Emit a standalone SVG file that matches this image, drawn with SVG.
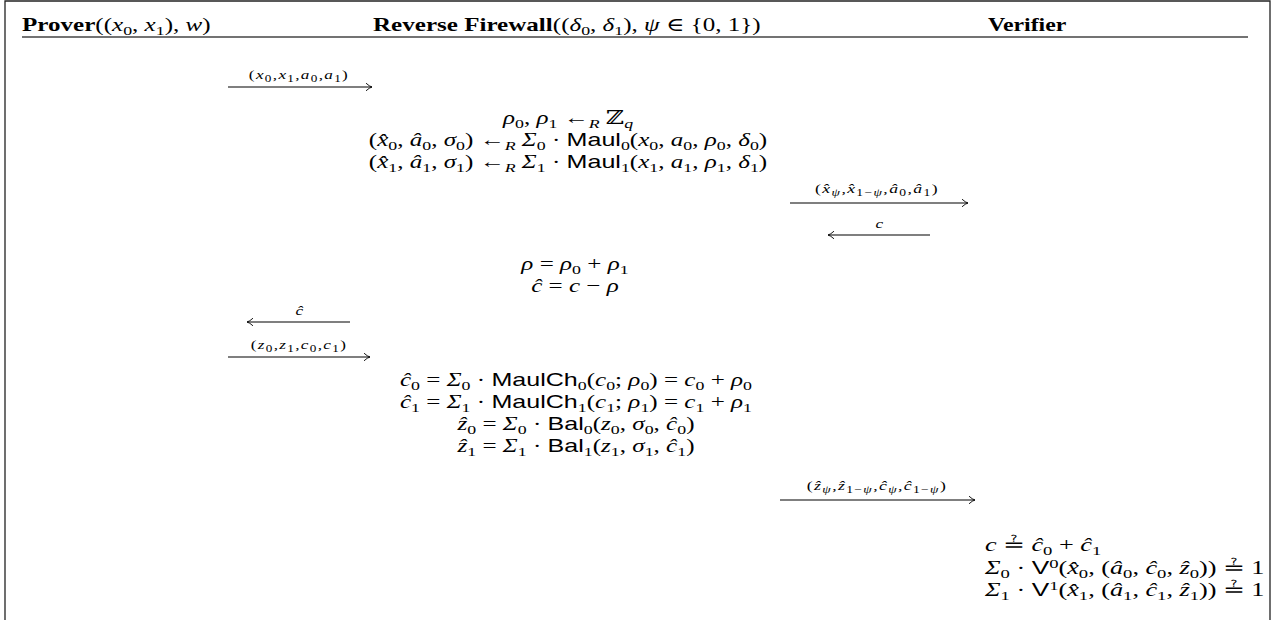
<svg xmlns="http://www.w3.org/2000/svg" width="1276" height="620" viewBox="0 0 1276 620">
<style>
.t{font-family:"Liberation Serif","DejaVu Serif",serif;font-size:19px;fill:#000}
.c{text-anchor:middle}
.m{font-style:italic}
.b{font-weight:bold}
.s{font-family:"Liberation Sans","DejaVu Sans",sans-serif;font-style:normal}
.sb{font-size:13.5px}
.l{font-size:13px;letter-spacing:1px}
.ls{font-size:10px}
.ln{stroke:#000;stroke-width:1.1;fill:none}
.frame{stroke:#222;stroke-width:1.3;fill:none}
</style>
<defs>
<marker id="ah" viewBox="-8 -5 10 10" refX="0" refY="0" markerWidth="10" markerHeight="10" markerUnits="userSpaceOnUse" orient="auto">
<path d="M-6,-3.8 Q-2.5,-0.6 0,0 Q-2.5,0.6 -6,3.8" fill="none" stroke="#000" stroke-width="0.9"/>
</marker>
</defs>
<rect width="1276" height="620" fill="#fff"/>
<path class="frame" d="M5,620 V1 H1270 V620"/>
<line x1="22" y1="37" x2="1248" y2="37" stroke="#444" stroke-width="1.4"/>

<g id="header-prover"><text class="t" transform="translate(22,31) scale(1.32,1)"><tspan class="b">Prover</tspan>((<tspan class="m">x</tspan><tspan class="sb" dy="4">0</tspan><tspan dy="-4">, </tspan><tspan class="m">x</tspan><tspan class="sb" dy="4">1</tspan><tspan dy="-4">), </tspan><tspan class="m">w</tspan>)</text></g>
<g id="header-firewall"><text class="t" transform="translate(373,31) scale(1.32,1)"><tspan class="b">Reverse Firewall</tspan>((<tspan class="m">δ</tspan><tspan class="sb" dy="4">0</tspan><tspan dy="-4">, </tspan><tspan class="m">δ</tspan><tspan class="sb" dy="4">1</tspan><tspan dy="-4">), </tspan><tspan class="m">ψ</tspan> ∈ {0, 1})</text></g>
<g id="header-verifier"><text class="t b" transform="translate(988,31) scale(1.25,1)">Verifier</text></g>

<g id="connectors">
<line class="ln" x1="228" y1="87" x2="372" y2="87" marker-end="url(#ah)"/>
<line class="ln" x1="790" y1="203" x2="968" y2="203" marker-end="url(#ah)"/>
<line class="ln" x1="930" y1="235" x2="828" y2="235" marker-end="url(#ah)"/>
<line class="ln" x1="350" y1="322" x2="247" y2="322" marker-end="url(#ah)"/>
<line class="ln" x1="228" y1="357" x2="370" y2="357" marker-end="url(#ah)"/>
<line class="ln" x1="780" y1="500" x2="975" y2="500" marker-end="url(#ah)"/>
<text class="t l c" transform="translate(299,79) scale(1.32,1)">(<tspan class="m">x</tspan><tspan class="ls" dy="3">0</tspan><tspan dy="-3">,</tspan><tspan class="m">x</tspan><tspan class="ls" dy="3">1</tspan><tspan dy="-3">,</tspan><tspan class="m">a</tspan><tspan class="ls" dy="3">0</tspan><tspan dy="-3">,</tspan><tspan class="m">a</tspan><tspan class="ls" dy="3">1</tspan><tspan dy="-3">)</tspan></text>
<text class="t l c" transform="translate(877,193) scale(1.36,1)">(<tspan class="m">x&#x302;</tspan><tspan class="ls m" dy="3">ψ</tspan><tspan dy="-3">,</tspan><tspan class="m">x&#x302;</tspan><tspan class="ls" dy="3">1−<tspan class="m">ψ</tspan></tspan><tspan dy="-3">,</tspan><tspan class="m">a&#x302;</tspan><tspan class="ls" dy="3">0</tspan><tspan dy="-3">,</tspan><tspan class="m">a&#x302;</tspan><tspan class="ls" dy="3">1</tspan><tspan dy="-3">)</tspan></text>
<text class="t l c m" transform="translate(880,228) scale(1.32,1)">c</text>
<text class="t l c m" transform="translate(300,315) scale(1.32,1)">c&#x302;</text>
<text class="t l c" transform="translate(299,349) scale(1.32,1)">(<tspan class="m">z</tspan><tspan class="ls" dy="3">0</tspan><tspan dy="-3">,</tspan><tspan class="m">z</tspan><tspan class="ls" dy="3">1</tspan><tspan dy="-3">,</tspan><tspan class="m">c</tspan><tspan class="ls" dy="3">0</tspan><tspan dy="-3">,</tspan><tspan class="m">c</tspan><tspan class="ls" dy="3">1</tspan><tspan dy="-3">)</tspan></text>
<text class="t l c" transform="translate(877,490) scale(1.36,1)">(<tspan class="m">z&#x302;</tspan><tspan class="ls m" dy="3">ψ</tspan><tspan dy="-3">,</tspan><tspan class="m">z&#x302;</tspan><tspan class="ls" dy="3">1−<tspan class="m">ψ</tspan></tspan><tspan dy="-3">,</tspan><tspan class="m">c&#x302;</tspan><tspan class="ls m" dy="3">ψ</tspan><tspan dy="-3">,</tspan><tspan class="m">c&#x302;</tspan><tspan class="ls" dy="3">1−<tspan class="m">ψ</tspan></tspan><tspan dy="-3">)</tspan></text>
</g>

<g id="firewall-sample">
<text class="t c" transform="translate(568,124) scale(1.32,1)"><tspan class="m">ρ</tspan><tspan class="sb" dy="4">0</tspan><tspan dy="-4">, </tspan><tspan class="m">ρ</tspan><tspan class="sb" dy="4">1</tspan><tspan dy="-4"> ←</tspan><tspan class="sb m" dy="4">R</tspan><tspan dy="-4"> ℤ</tspan><tspan class="sb m" dy="4">q</tspan></text>
<text class="t c" transform="translate(568,146) scale(1.32,1)">(<tspan class="m">x&#x302;</tspan><tspan class="sb" dy="4">0</tspan><tspan dy="-4">, </tspan><tspan class="m">a&#x302;</tspan><tspan class="sb" dy="4">0</tspan><tspan dy="-4">, </tspan><tspan class="m">σ</tspan><tspan class="sb" dy="4">0</tspan><tspan dy="-4">) ←</tspan><tspan class="sb m" dy="4">R</tspan><tspan dy="-4"> </tspan><tspan class="m">Σ</tspan><tspan class="sb" dy="4">0</tspan><tspan dy="-4"> · </tspan><tspan class="s">Maul</tspan><tspan class="sb" dy="4">0</tspan><tspan dy="-4">(</tspan><tspan class="m">x</tspan><tspan class="sb" dy="4">0</tspan><tspan dy="-4">, </tspan><tspan class="m">a</tspan><tspan class="sb" dy="4">0</tspan><tspan dy="-4">, </tspan><tspan class="m">ρ</tspan><tspan class="sb" dy="4">0</tspan><tspan dy="-4">, </tspan><tspan class="m">δ</tspan><tspan class="sb" dy="4">0</tspan><tspan dy="-4">)</tspan></text>
<text class="t c" transform="translate(568,168) scale(1.32,1)">(<tspan class="m">x&#x302;</tspan><tspan class="sb" dy="4">1</tspan><tspan dy="-4">, </tspan><tspan class="m">a&#x302;</tspan><tspan class="sb" dy="4">1</tspan><tspan dy="-4">, </tspan><tspan class="m">σ</tspan><tspan class="sb" dy="4">1</tspan><tspan dy="-4">) ←</tspan><tspan class="sb m" dy="4">R</tspan><tspan dy="-4"> </tspan><tspan class="m">Σ</tspan><tspan class="sb" dy="4">1</tspan><tspan dy="-4"> · </tspan><tspan class="s">Maul</tspan><tspan class="sb" dy="4">1</tspan><tspan dy="-4">(</tspan><tspan class="m">x</tspan><tspan class="sb" dy="4">1</tspan><tspan dy="-4">, </tspan><tspan class="m">a</tspan><tspan class="sb" dy="4">1</tspan><tspan dy="-4">, </tspan><tspan class="m">ρ</tspan><tspan class="sb" dy="4">1</tspan><tspan dy="-4">, </tspan><tspan class="m">δ</tspan><tspan class="sb" dy="4">1</tspan><tspan dy="-4">)</tspan></text>
</g>

<g id="firewall-challenge">
<text class="t c" transform="translate(575,270) scale(1.32,1)"><tspan class="m">ρ</tspan> = <tspan class="m">ρ</tspan><tspan class="sb" dy="4">0</tspan><tspan dy="-4"> + </tspan><tspan class="m">ρ</tspan><tspan class="sb" dy="4">1</tspan></text>
<text class="t c" transform="translate(575,292) scale(1.32,1)"><tspan class="m">c&#x302;</tspan> = <tspan class="m">c</tspan> − <tspan class="m">ρ</tspan></text>
</g>

<g id="firewall-response">
<text class="t c" transform="translate(576,386) scale(1.32,1)"><tspan class="m">c&#x302;</tspan><tspan class="sb" dy="4">0</tspan><tspan dy="-4"> = </tspan><tspan class="m">Σ</tspan><tspan class="sb" dy="4">0</tspan><tspan dy="-4"> · </tspan><tspan class="s">MaulCh</tspan><tspan class="sb" dy="4">0</tspan><tspan dy="-4">(</tspan><tspan class="m">c</tspan><tspan class="sb" dy="4">0</tspan><tspan dy="-4">; </tspan><tspan class="m">ρ</tspan><tspan class="sb" dy="4">0</tspan><tspan dy="-4">) = </tspan><tspan class="m">c</tspan><tspan class="sb" dy="4">0</tspan><tspan dy="-4"> + </tspan><tspan class="m">ρ</tspan><tspan class="sb" dy="4">0</tspan></text>
<text class="t c" transform="translate(576,408) scale(1.32,1)"><tspan class="m">c&#x302;</tspan><tspan class="sb" dy="4">1</tspan><tspan dy="-4"> = </tspan><tspan class="m">Σ</tspan><tspan class="sb" dy="4">1</tspan><tspan dy="-4"> · </tspan><tspan class="s">MaulCh</tspan><tspan class="sb" dy="4">1</tspan><tspan dy="-4">(</tspan><tspan class="m">c</tspan><tspan class="sb" dy="4">1</tspan><tspan dy="-4">; </tspan><tspan class="m">ρ</tspan><tspan class="sb" dy="4">1</tspan><tspan dy="-4">) = </tspan><tspan class="m">c</tspan><tspan class="sb" dy="4">1</tspan><tspan dy="-4"> + </tspan><tspan class="m">ρ</tspan><tspan class="sb" dy="4">1</tspan></text>
<text class="t c" transform="translate(576,430) scale(1.32,1)"><tspan class="m">z&#x302;</tspan><tspan class="sb" dy="4">0</tspan><tspan dy="-4"> = </tspan><tspan class="m">Σ</tspan><tspan class="sb" dy="4">0</tspan><tspan dy="-4"> · </tspan><tspan class="s">Bal</tspan><tspan class="sb" dy="4">0</tspan><tspan dy="-4">(</tspan><tspan class="m">z</tspan><tspan class="sb" dy="4">0</tspan><tspan dy="-4">, </tspan><tspan class="m">σ</tspan><tspan class="sb" dy="4">0</tspan><tspan dy="-4">, </tspan><tspan class="m">c&#x302;</tspan><tspan class="sb" dy="4">0</tspan><tspan dy="-4">)</tspan></text>
<text class="t c" transform="translate(576,452) scale(1.32,1)"><tspan class="m">z&#x302;</tspan><tspan class="sb" dy="4">1</tspan><tspan dy="-4"> = </tspan><tspan class="m">Σ</tspan><tspan class="sb" dy="4">1</tspan><tspan dy="-4"> · </tspan><tspan class="s">Bal</tspan><tspan class="sb" dy="4">1</tspan><tspan dy="-4">(</tspan><tspan class="m">z</tspan><tspan class="sb" dy="4">1</tspan><tspan dy="-4">, </tspan><tspan class="m">σ</tspan><tspan class="sb" dy="4">1</tspan><tspan dy="-4">, </tspan><tspan class="m">c&#x302;</tspan><tspan class="sb" dy="4">1</tspan><tspan dy="-4">)</tspan></text>
</g>

<g id="verifier-checks">
<text class="t" transform="translate(985,551) scale(1.38,1)"><tspan class="m">c</tspan> ≟ <tspan class="m">c&#x302;</tspan><tspan class="sb" dy="4">0</tspan><tspan dy="-4"> + </tspan><tspan class="m">c&#x302;</tspan><tspan class="sb" dy="4">1</tspan></text>
<text class="t" transform="translate(985,574) scale(1.38,1)"><tspan class="m">Σ</tspan><tspan class="sb" dy="4">0</tspan><tspan dy="-4"> · </tspan><tspan class="s">V</tspan><tspan class="sb" dy="-6">0</tspan><tspan dy="6">(</tspan><tspan class="m">x&#x302;</tspan><tspan class="sb" dy="4">0</tspan><tspan dy="-4">, (</tspan><tspan class="m">a&#x302;</tspan><tspan class="sb" dy="4">0</tspan><tspan dy="-4">, </tspan><tspan class="m">c&#x302;</tspan><tspan class="sb" dy="4">0</tspan><tspan dy="-4">, </tspan><tspan class="m">z&#x302;</tspan><tspan class="sb" dy="4">0</tspan><tspan dy="-4">)) ≟ 1</tspan></text>
<text class="t" transform="translate(985,596) scale(1.38,1)"><tspan class="m">Σ</tspan><tspan class="sb" dy="4">1</tspan><tspan dy="-4"> · </tspan><tspan class="s">V</tspan><tspan class="sb" dy="-6">1</tspan><tspan dy="6">(</tspan><tspan class="m">x&#x302;</tspan><tspan class="sb" dy="4">1</tspan><tspan dy="-4">, (</tspan><tspan class="m">a&#x302;</tspan><tspan class="sb" dy="4">1</tspan><tspan dy="-4">, </tspan><tspan class="m">c&#x302;</tspan><tspan class="sb" dy="4">1</tspan><tspan dy="-4">, </tspan><tspan class="m">z&#x302;</tspan><tspan class="sb" dy="4">1</tspan><tspan dy="-4">)) ≟ 1</tspan></text>
</g>
</svg>
